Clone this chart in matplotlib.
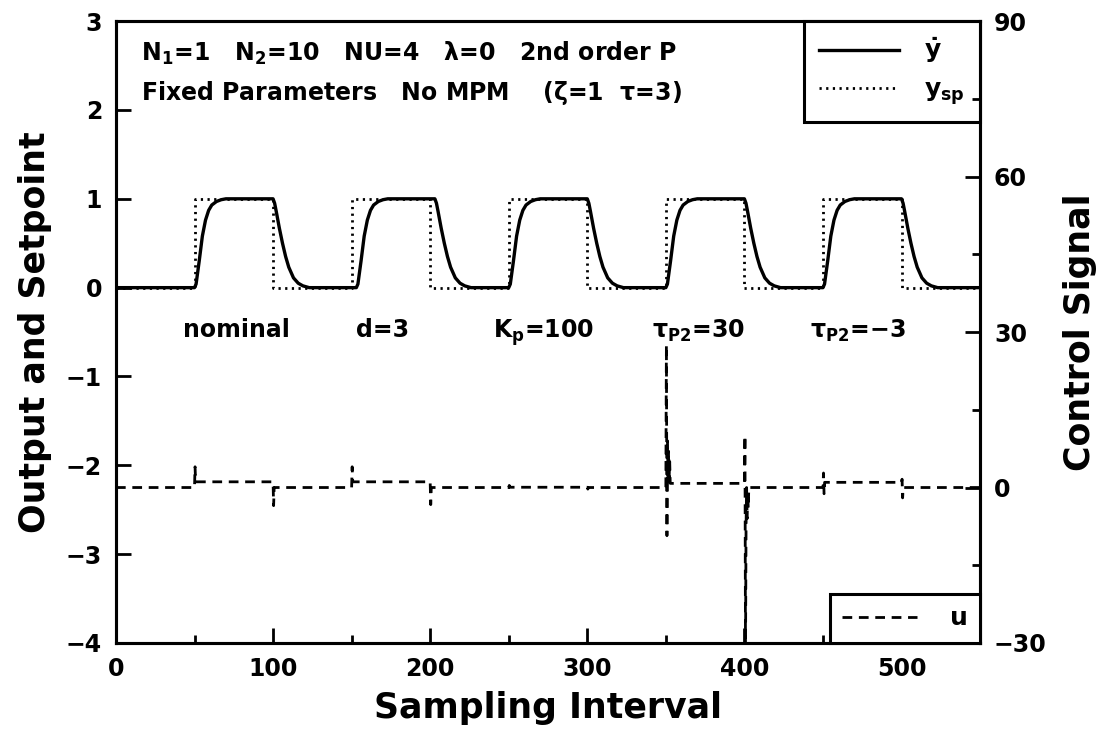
import numpy as np
import matplotlib
matplotlib.use("Agg")
import matplotlib.pyplot as plt
from matplotlib.lines import Line2D
from matplotlib.ticker import MultipleLocator

plt.rcParams['font.family'] = ['DejaVu Sans']
plt.rcParams['font.weight'] = 'bold'
plt.rcParams['axes.labelweight'] = 'bold'
plt.rcParams['mathtext.fontset'] = 'dejavusans'
plt.rcParams['mathtext.default'] = 'bf'

# setpoint switching instants and the setpoint level after each switch
step_times = [50, 100, 150, 200, 250, 300, 350, 400, 450, 500]
sp_levels = [1, 0, 1, 0, 1, 0, 1, 0, 1, 0]
t_end = 550

# output response (time after switch, fraction of the move)
rise_dt = [0, 1, 3, 5, 7, 9, 11, 14, 17, 20, 25]
rise_frac = [0, 0.04, 0.3, 0.58, 0.76, 0.87, 0.93, 0.97, 0.99, 1.0, 1.0]
fall_dt = [0, 1, 2, 4, 6, 8, 10, 13, 16, 19, 23]
fall_frac = [0, 0.05, 0.14, 0.33, 0.5, 0.65, 0.77, 0.89, 0.95, 0.98, 1.0]
# extra dead time seen in each case (nominal, d=3, Kp=100, tauP2=30, tauP2=-3)
case_delay = [0, 3, 0, 0, 0]

# control signal: level after each switch and the excursions right after it
u_level = [1.1, 0, 1.1, 0, 0.05, 0, 0.8, 0, 1.0, 0]
u_kick = [
    [4.0, 1.1],
    [-3.5, 0],
    [4.0, 1.1],
    [-3.3, 0],
    [0.4, 0.05],
    [-0.3, 0],
    [27.5, -9.3, 9.0, 1.0, 7.0, 2.0, 5.0, 0.8],
    [10.0, -32.0, -7.5, 0.0, -6.0, -1.0, -4.0, 0],
    [2.8, -1.2, 1.0],
    [1.6, -2.0, 0],
]

case_labels = ['nominal', 'd=3', r'K$_{\rm p}$=100', r'$\tau_{\rm P2}$=30', r'$\tau_{\rm P2}$=$-$3']
case_label_x = [77, 170, 272, 371, 472]

# build series
sp_t = [0]
sp_v = [0]
prev = 0
for ts, lv in zip(step_times, sp_levels):
    sp_t += [ts, ts]
    sp_v += [prev, lv]
    prev = lv
sp_t.append(t_end)
sp_v.append(prev)

y_t = [0]
y_v = [0]
prev = 0
for i, (ts, lv) in enumerate(zip(step_times, sp_levels)):
    d = case_delay[i // 2]
    if lv > prev:
        dts, fr = rise_dt, rise_frac
    else:
        dts, fr = fall_dt, fall_frac
    y_t.append(ts + d)
    y_v.append(prev)
    for dt, f in zip(dts, fr):
        y_t.append(ts + d + dt)
        y_v.append(prev + (lv - prev) * f)
    prev = lv
y_t.append(t_end)
y_v.append(prev)

u_t = [0]
u_v = [0]
prev = 0
for ts, lv, kick in zip(step_times, u_level, u_kick):
    u_t.append(ts)
    u_v.append(prev)
    for k, v in enumerate(kick):
        u_t.append(ts + 0.35 * (k + 1))
        u_v.append(v)
    u_t.append(ts + 0.35 * (len(kick) + 1))
    u_v.append(lv)
    prev = lv
u_t.append(t_end)
u_v.append(prev)

dash_u = (0, (3.5, 2.4))
dot_sp = (0, (0.8, 1.6))

fig = plt.figure(figsize=(10.98, 7.29), dpi=100)
ax = fig.add_axes([0.1056, 0.118, 0.787, 0.853])
ax2 = ax.twinx()

ax.plot(y_t, y_v, color='black', lw=2.4, solid_joinstyle='round')
ax.plot(sp_t, sp_v, color='black', lw=2.0, linestyle=dot_sp)
ax2.plot(u_t, u_v, color='black', lw=2.0, linestyle=dash_u)

ax.set_xlim(0, 550)
ax.set_ylim(-4, 3)
ax2.set_ylim(-30, 90)

ax.xaxis.set_major_locator(MultipleLocator(100))
ax.xaxis.set_minor_locator(MultipleLocator(50))
ax.yaxis.set_major_locator(MultipleLocator(1))
ax2.yaxis.set_major_locator(MultipleLocator(30))
ax2.yaxis.set_minor_locator(MultipleLocator(15))

for a in (ax, ax2):
    for s in a.spines.values():
        s.set_linewidth(2.2)
    a.tick_params(which='major', direction='in', length=11, width=2, labelsize=17, pad=10)
    a.tick_params(which='minor', direction='in', length=6, width=2)
ax.tick_params(axis='y', right=False)
ax.tick_params(axis='x', top=False, which='both')

ax.set_yticks(range(-4, 4))
ax.set_yticklabels([f'{v}'.replace('-', '\u2212') for v in range(-4, 4)])

ax.set_xlabel('Sampling Interval', fontsize=25, labelpad=7)
ax.set_ylabel('Output and Setpoint', fontsize=25, labelpad=10)
ax2.set_ylabel('Control Signal', fontsize=25, labelpad=12)

ax.text(16, 2.64, r'N$_1$=1   N$_2$=10   NU=4   $\lambda$=0   2nd order P',
        fontsize=17, va='center', ha='left')
ax.text(16, 2.19, r'Fixed Parameters   No MPM    ($\zeta$=1  $\tau$=3)',
        fontsize=17, va='center', ha='left')

for x, lab in zip(case_label_x, case_labels):
    ax.text(x, -0.56, lab, fontsize=17, ha='center', va='baseline')

h1 = [Line2D([], [], color='black', lw=2.4),
      Line2D([], [], color='black', lw=2.0, linestyle=dot_sp)]
leg1 = ax.legend(h1, [r'$\dot{y}$', r'$y_{\mathbf{sp}}$'], loc='upper right',
                 borderaxespad=0, fancybox=False, edgecolor='black', framealpha=1,
                 fontsize=18, handlelength=3.2, borderpad=0.6, labelspacing=0.5,
                 handletextpad=1.0)
leg1.get_frame().set_linewidth(2.2)

h2 = [Line2D([], [], color='black', lw=2.0, linestyle=dash_u)]
leg2 = ax2.legend(h2, ['u'], loc='lower right', borderaxespad=0, fancybox=False,
                  edgecolor='black', framealpha=1, fontsize=18, handlelength=3.0,
                  borderpad=0.5, handletextpad=1.3)
leg2.get_frame().set_linewidth(2.2)

fig.savefig('out.png', dpi=100)
